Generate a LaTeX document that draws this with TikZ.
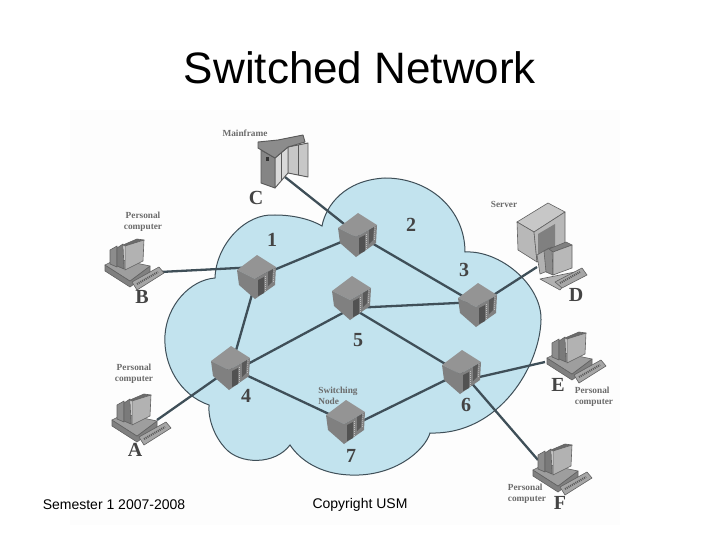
\documentclass[tikz,border=0pt]{standalone}
\usepackage{fontspec}
\setmainfont{Liberation Serif}
\newfontfamily\sansfnt{Liberation Sans}
\definecolor{cloudblue}{HTML}{C2E3EE}
\definecolor{inkline}{HTML}{3F4F58}
\definecolor{labelink}{HTML}{444444}
\tikzset{
  bgpanel/.style={fill=black!0.8,draw=none},
  cloudshape/.style={fill=cloudblue,draw=inkline,line width=1pt},
  link/.style={draw=inkline,line width=2.3pt},
  big/.style={font=\bfseries\fontsize{20}{22}\selectfont,text=labelink,inner sep=0pt},
  small/.style={font=\bfseries\fontsize{9.3}{11.5}\selectfont,text=black!58,inner sep=0pt},
  foot/.style={font=\sansfnt\fontsize{14}{16}\selectfont,text=black,inner sep=0pt},
  edge/.style={draw=black!62,line width=.6pt,line join=round},
  switchbox/.pic={
    \fill[black!42] (-20,-7)--(0,-22)--(19,-10)--(-2,2)--cycle;
    \fill[black!50] (-20,-7)--(-2,2)--(-2,22)--(-18,8)--cycle;
    \fill[black!50] (-2,2)--(19,-10)--(18,8)--(-2,22)--cycle;
    \fill[black!68] (1,3)--(7,0)--(7,16)--(1,19)--cycle;
    \fill[black!65] (11,-5)--(16,-8)--(15,5)--(11,9)--cycle;
    \draw[white!75!black,line width=.7pt,dash pattern=on 1pt off 1pt] (8.5,-1)--(8.5,14);
    \draw[white!75!black,line width=.7pt,dash pattern=on 1pt off 1pt] (17,-8)--(16.5,5);
  },
  pcset/.pic={
    \fill[black!50,edge] (-27,2)--(-27,8)--(-2,24)--(18,9)--(18,3)--(-2,18)--cycle;
    \fill[black!38,edge] (-27,2)--(-15,-4)--(18,3)--(-2,18)--cycle;
    \fill[black!35,edge] (0,19)--(27,4)--(32,10)--(5,27)--cycle;
    \draw[black!65,line width=2pt,dash pattern=on 1pt off 1pt] (5,21)--(26,9);
    \fill[black!45,edge] (-22,-13)--(-15,-17)--(-15,4)--(-22,1)--cycle;
    \fill[black!52,edge] (-15,-15)--(-9,-19)--(-8,6)--(-15,3)--cycle;
    \fill[black!58,edge] (-9,-18)--(5,-24)--(12,-23)--(-7,-17)--cycle;
    \fill[black!30,edge] (-7,-17)--(12,-23)--(11,-2)--(-7,7)--cycle;
  },
}
\begin{document}
\begin{tikzpicture}[x=1pt,y=-1pt]
\useasboundingbox (0,0) rectangle (720,540);
\fill[white] (0,0) rectangle (720,540);
\fill[bgpanel] (70,110) rectangle (620,525);

% cloud
\draw[cloudshape] (322,226)
  .. controls (326,205) and (345,180) .. (385,178)
  .. controls (430,178) and (465,210) .. (465,252)
  .. controls (500,250) and (542,285) .. (541,320)
  .. controls (540,365) and (500,435) .. (430,433)
  .. controls (425,450) and (395,477) .. (350,475)
  .. controls (320,474) and (300,460) .. (290,445)
  .. controls (275,465) and (240,465) .. (225,448)
  .. controls (215,437) and (208,420) .. (209,405)
  .. controls (180,395) and (163,365) .. (165,335)
  .. controls (167,305) and (190,280) .. (215,278)
  .. controls (216,245) and (245,213) .. (275,215)
  .. controls (295,215) and (312,220) .. (322,226)
  -- cycle;

% device positions
\coordinate (s1) at (257,277);
\coordinate (s2) at (358,235);
\coordinate (s3) at (478,305);
\coordinate (s4) at (231,368);
\coordinate (s5) at (352,298);
\coordinate (s6) at (462,372);
\coordinate (s7) at (346,422);
\coordinate (s1port) at (257,267);
\coordinate (s3port) at (478,302);
\coordinate (s4port) at (231,373);
\coordinate (s5port) at (352,308);
\coordinate (s6port) at (462,374);
\coordinate (s6east) at (462,381);
\coordinate (s7port) at (346,429);
\coordinate (pa) at (157,420);
\coordinate (pb) at (160,272);
\coordinate (pc) at (285,177);
\coordinate (pd) at (537,267);
\coordinate (pe) at (545,362);
\coordinate (pf) at (538,460);

% connectors
\draw[link] (pb) -- (s1port);
\draw[link] (pc) -- (s2);
\draw[link] (s1) -- (s2);
\draw[link] (s1) -- (s4);
\draw[link] (s2) -- (s3);
\draw[link] (s3port) -- (s5port);
\draw[link] (s3) -- (pd);
\draw[link] (s4port) -- (s5port);
\draw[link] (s4) -- (s7);
\draw[link] (s4) -- (pa);
\draw[link] (s5port) -- (s6port);
\draw[link] (s6) -- (s7port);
\draw[link] (s6east) -- (pe);
\draw[link] (s6) -- (pf);

% switches
\foreach \n in {s1,s2,s3,s4,s5,s6,s7} \pic at (\n) {switchbox};

% personal computers
\pic at (132,263) {pcset};
\pic at (139,418) {pcset};
\pic at (574,356) {pcset};
\pic at (560,468) {pcset};

% mainframe
\begin{scope}[edge/.append style={draw=black!65,line width=.9pt}]
\fill[black!22,edge] (288,147)--(308,143)--(308,177)--(288,173)--cycle;
\draw[edge] (298,145)--(298,175);
\fill[black!15,edge] (275,158)--(288,147)--(288,173)--(275,188)--cycle;
\draw[edge] (281,153)--(281,181);
\fill[black!48,edge] (261,150)--(275,158)--(275,188)--(261,183)--cycle;
\fill[black!80] (266,157) rectangle (269,161);
\fill[black!45,edge] (258,142)--(278,140)--(303,135)--(305,142)--(288,147)--(275,158)--(258,148)--cycle;
\end{scope}

% server
\fill[black!22,edge] (548,203)--(565,212)--(534,232)--(517,222)--cycle;
\fill[black!28,edge] (517,222)--(534,232)--(537,262)--(518,250)--cycle;
\fill[black!28,edge] (534,232)--(565,212)--(565,243)--(537,262)--cycle;
\fill[black!50] (538,234)--(555,224)--(555,248)--(538,258)--cycle;
\fill[black!30,edge] (540,279)--(575,272)--(560,290)--cycle;
\fill[black!30,edge] (537,255)--(549,248)--(550,270)--(540,274)--cycle;
\fill[black!45,edge] (544,251)--(552,247)--(553,275)--(546,272)--cycle;
\fill[black!50,edge] (549,249)--(566,242)--(572,245)--(553,252)--cycle;
\fill[black!28,edge] (553,252)--(572,245)--(572,268)--(553,275)--cycle;
\fill[black!35,edge] (555,282)--(582,268)--(587,275)--(562,288)--cycle;
\draw[black!65,line width=2pt,dash pattern=on 1pt off 1pt] (560,283)--(580,272);

% big labels
\node[big] (la) at (135,450) {A};
\node[big] (lb) at (142,297) {B};
\node[big] (lc) at (256,198) {C};
\node[big] (ld) at (576,295) {D};
\node[big] (le) at (558,385) {E};
\node[big] (lf) at (560,503) {F};
\node[big] (n1) at (272,240) {1};
\node[big] (n2) at (411,225) {2};
\node[big] (n3) at (464,270) {3};
\node[big] (n4) at (246,396) {4};
\node[big] (n5) at (358,340) {5};
\node[big] (n6) at (466,405) {6};
\node[big] (n7) at (351,456) {7};

% small labels
\node[small] (tmain) at (245,133) {Mainframe};
\node[small] (tserver) at (504,204) {Server};
\node[small,align=center] (tpb) at (143,222) {Personal\\computer};
\node[small,align=center] (tpa) at (134,374) {Personal\\computer};
\node[small,align=left] (tsw) at (338,396) {Switching\\Node};
\node[small,align=left] (tpe) at (594,397) {Personal\\computer};
\node[small,align=left] (tpf) at (527,494) {Personal\\computer};

% slide text
\node[font=\sansfnt\fontsize{44}{48}\selectfont,inner sep=0pt] (title) at (360,68) {Switched Network};
\node[foot] (f1) at (114,504.5) {Semester 1 2007-2008};
\node[foot] (f2) at (360,504.5) {Copyright USM};
\end{tikzpicture}
\end{document}
